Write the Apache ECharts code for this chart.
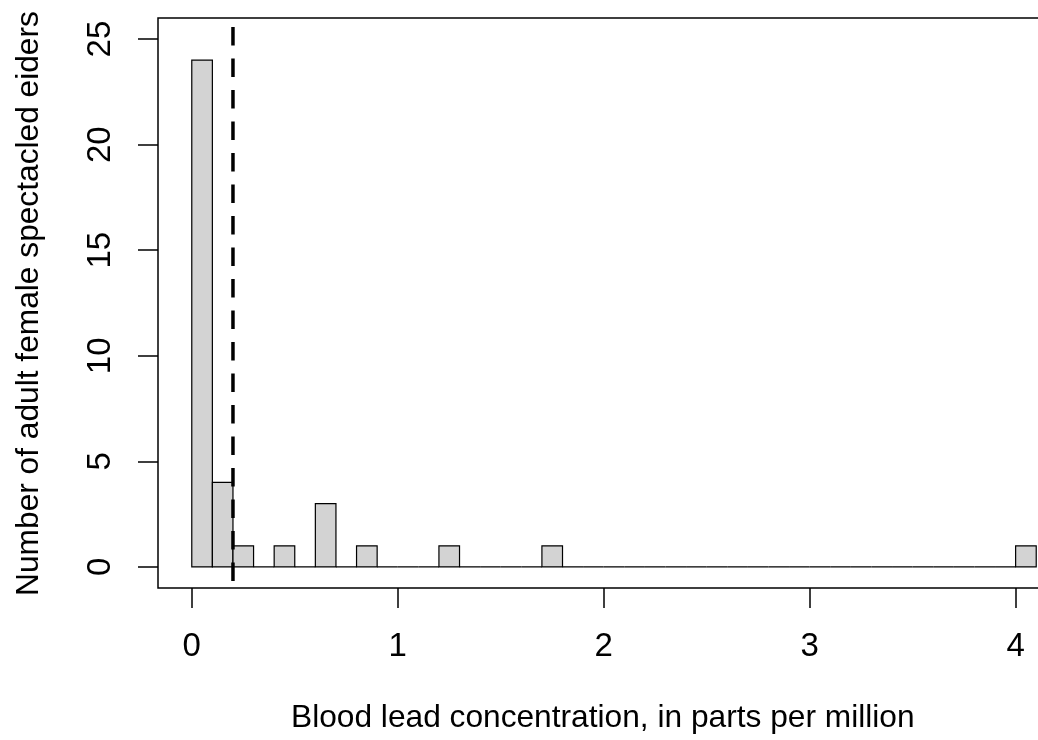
<!DOCTYPE html>
<html>
<head>
<meta charset="utf-8">
<script src="https://cdn.jsdelivr.net/npm/echarts@6/dist/echarts.min.js"></script>
<style>
  html, body { margin: 0; padding: 0; background: #fff; overflow: hidden; }
  /* plot box runs past the right edge of the window, as in the reference */
  #chart { width: 1070px; height: 740px; }
</style>
</head>
<body>
<div id="chart"></div>
<script>
// histogram bins, width 0.1 ppm
const binStarts = [0.0, 0.1, 0.2, 0.3, 0.4, 0.5, 0.6, 0.7, 0.8, 0.9,
  1.0, 1.1, 1.2, 1.3, 1.4, 1.5, 1.6, 1.7, 1.8, 1.9,
  2.0, 2.1, 2.2, 2.3, 2.4, 2.5, 2.6, 2.7, 2.8, 2.9,
  3.0, 3.1, 3.2, 3.3, 3.4, 3.5, 3.6, 3.7, 3.8, 3.9, 4.0];
const binEnds = [0.1, 0.2, 0.3, 0.4, 0.5, 0.6, 0.7, 0.8, 0.9, 1.0,
  1.1, 1.2, 1.3, 1.4, 1.5, 1.6, 1.7, 1.8, 1.9, 2.0,
  2.1, 2.2, 2.3, 2.4, 2.5, 2.6, 2.7, 2.8, 2.9, 3.0,
  3.1, 3.2, 3.3, 3.4, 3.5, 3.6, 3.7, 3.8, 3.9, 4.0, 4.1];
const counts = [24, 4, 1, 0, 1, 0, 3, 0, 1, 0,
  0, 0, 1, 0, 0, 0, 0, 1, 0, 0,
  0, 0, 0, 0, 0, 0, 0, 0, 0, 0,
  0, 0, 0, 0, 0, 0, 0, 0, 0, 0, 1];
const xTicks = [0, 1, 2, 3, 4];
const yTicks = [0, 5, 10, 15, 20, 25];
const threshold = 0.2;

const histData = binStarts.map((s, i) => [s, binEnds[i], counts[i]]);

const chart = echarts.init(document.getElementById('chart'));
const font = 'Liberation Sans, Arial, Helvetica, sans-serif';

chart.setOption({
  animation: false,
  grid: {
    left: 158, right: 0, top: 18, bottom: 152,
    show: true, borderColor: '#000', borderWidth: 1.5,
    backgroundColor: 'transparent'
  },
  xAxis: {
    type: 'value', min: -0.164, max: 4.264,
    splitLine: { show: false },
    axisLine: { show: false, onZero: false },
    axisTick: { show: true, length: 20, customValues: xTicks,
      lineStyle: { color: '#000', width: 1.5 } },
    axisLabel: { customValues: xTicks, margin: 42, color: '#000',
      fontSize: 33, fontFamily: font }
  },
  yAxis: {
    type: 'value', min: -1, max: 26,
    splitLine: { show: false },
    axisLine: { show: false, onZero: false },
    axisTick: { show: true, length: 20, customValues: yTicks,
      lineStyle: { color: '#000', width: 1.5 } },
    axisLabel: { customValues: yTicks, margin: 41, rotate: 90, color: '#000',
      fontSize: 33, fontFamily: font }
  },
  graphic: [
    {
      type: 'text', x: 291, y: 718,
      style: { text: 'Blood lead concentration, in parts per million',
        fill: '#000', fontSize: 31.7, fontFamily: font,
        align: 'left', verticalAlign: 'middle' }
    },
    {
      type: 'text', x: 29, y: 303.5, rotation: Math.PI / 2,
      style: { text: 'Number of adult female spectacled eiders',
        fill: '#000', fontSize: 31.7, fontFamily: font,
        align: 'center', verticalAlign: 'middle' }
    }
  ],
  series: [
    {
      type: 'custom',
      data: histData,
      encode: { x: [0, 1], y: 2 },
      renderItem: function (params, api) {
        const top = api.coord([api.value(0), api.value(2)]);
        const bot = api.coord([api.value(1), 0]);
        return {
          type: 'rect',
          shape: { x: top[0], y: top[1], width: bot[0] - top[0], height: bot[1] - top[1] },
          style: { fill: '#d3d3d3', stroke: '#000', lineWidth: 1.2 }
        };
      }
    },
    {
      type: 'line',
      data: [[threshold, 26], [threshold, -1]],
      symbol: 'none',
      lineStyle: { color: '#000', width: 3.5, type: [18.5, 13], dashOffset: 22.5 }
    }
  ]
});
</script>
</body>
</html>
